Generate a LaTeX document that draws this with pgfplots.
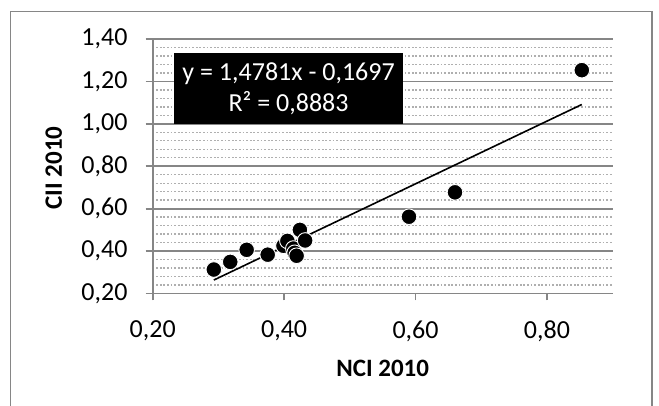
\documentclass[border=0pt]{standalone}
\usepackage{pgfplots}
\pgfplotsset{compat=1.18}
\usepackage{fontspec}
\setmainfont{Carlito}
\definecolor{axgray}{RGB}{134,134,134}
\definecolor{mingray}{RGB}{175,175,175}
\begin{document}
\begin{tikzpicture}
\useasboundingbox (-76.35pt,-56.25pt) rectangle (253.15pt,146.75pt);
% chart area frame
\draw[axgray, line width=0.6pt] (-71.1pt,-56.25pt) -- (-71.1pt,140.9pt) -- (249.65pt,140.9pt) -- (249.65pt,-56.25pt);
\begin{axis}[
    at={(0pt,0pt)}, anchor=south west,
    scale only axis,
    width=230pt, height=127.25pt,
    xmin=0.2, xmax=0.9, ymin=0.2, ymax=1.4,
    xtick={0.2,0.4,0.6,0.8},
    ytick={0.2,0.4,0.6,0.8,1.0,1.2,1.4},
    minor y tick num=4,
    ymajorgrids, yminorgrids,
    major grid style={axgray, line width=0.9pt},
    minor grid style={mingray, line width=0.7pt, dash pattern=on 0.9pt off 0.9pt},
    axis lines=left,
    axis line style={axgray, line width=0.9pt, -},
    tick align=outside,
    major tick length=3.5pt, minor tick length=0pt,
    tick style={axgray, line width=0.9pt},
    /pgf/number format/fixed,
    /pgf/number format/fixed zerofill,
    /pgf/number format/precision=2,
    /pgf/number format/use comma,
    /pgf/number format/assume math mode=true,
    ticklabel style={font=\fontsize{13}{15}\selectfont},
    xticklabel style={inner sep=0pt, anchor=north, yshift=-9.9pt},
    yticklabel style={inner sep=0pt, anchor=east, xshift=-8.9pt},
    xlabel={NCI 2010}, ylabel={CII 2010},
    label style={font=\fontsize{12.5}{15}\selectfont\bfseries},
    xlabel style={at={(axis description cs:0.5,-0.293)}, anchor=center},
    ylabel style={at={(axis description cs:-0.215,0.493)}, anchor=center},
]
% NCI 2010 vs CII 2010
\addplot[only marks, mark=*, mark size=3.9pt,
         mark options={fill=black, draw=white, line width=0.45pt}]
coordinates {
 (0.293,0.313) (0.318,0.349) (0.343,0.406) (0.375,0.383)
 (0.399,0.425) (0.405,0.448) (0.414,0.412) (0.416,0.392)
 (0.419,0.378) (0.424,0.500) (0.432,0.450)
 (0.590,0.562) (0.660,0.677) (0.853,1.253)
};
% linear trendline
\addplot[black, line width=0.8pt, no marks] coordinates {(0.293,0.2634) (0.853,1.0911)};
\node[fill=black, text=white, align=center, inner sep=0pt,
      minimum width=114.1pt, minimum height=35.8pt,
      font=\fontsize{13}{15.5}\selectfont]
  at (axis cs:0.4068,1.167) {y = 1,4781x - 0,1697\\R² = 0,8883};
\end{axis}
\end{tikzpicture}
\end{document}
